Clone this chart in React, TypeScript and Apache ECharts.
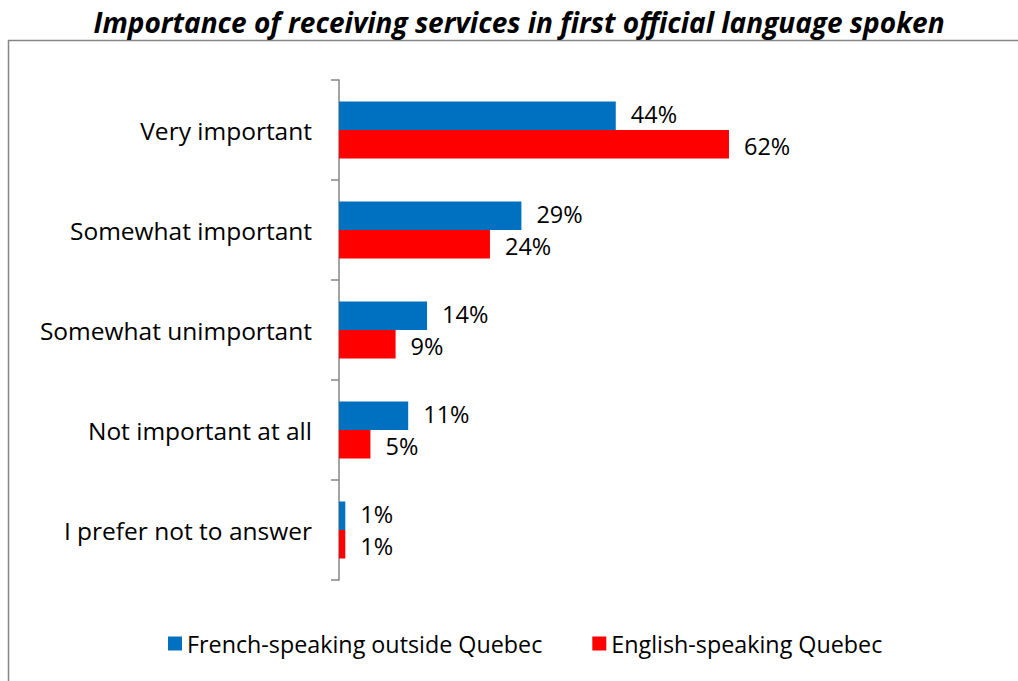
import React, { useEffect, useRef } from "react";
import * as echarts from "echarts";

const categories = [
  "Very important",
  "Somewhat important",
  "Somewhat unimportant",
  "Not important at all",
  "I prefer not to answer",
];
const frenchOutsideQuebec = [44, 29, 14, 11, 1];
const englishQuebec = [62, 24, 9, 5, 1];
const seriesNames = ["French-speaking outside Quebec", "English-speaking Quebec"];
const titleText = "Importance of receiving services in first official language spoken";

const FONT = "'Open Sans', 'Noto Sans', sans-serif";

export default function App() {
  const ref = useRef<HTMLDivElement>(null);
  useEffect(() => {
    if (!ref.current) return;
    const chart = echarts.init(ref.current, null, { renderer: "svg" });
    const makeLabel = (dy: number) => ({
      show: true,
      position: "right" as const,
      distance: 15,
      offset: [0, dy],
      formatter: (p: any) => `${p.value}%`,
      color: "#000",
      fontSize: 23.5,
      lineHeight: 24,
      fontFamily: FONT,
    });
    chart.setOption({
      animation: false,
      backgroundColor: "#fff",
      textStyle: { fontFamily: FONT },
      graphic: [
        {
          type: "rect",
          shape: { x: 8.5, y: 40.5, width: 1100, height: 700 },
          style: { fill: "none", stroke: "#868686", lineWidth: 1.5 },
          silent: true,
        },
        {
          type: "text",
          x: 519,
          y: 22,
          style: {
            text: titleText,
            font: `italic bold 28px ${FONT}`,
            fill: "#000",
            align: "center",
            verticalAlign: "middle",
          },
        },
      ],
      grid: { left: 339, top: 80, width: 629, height: 500, containLabel: false },
      xAxis: {
        type: "value",
        min: 0,
        max: 100,
        show: false,
      },
      yAxis: {
        type: "category",
        data: categories,
        inverse: true,
        axisLine: { show: true, lineStyle: { color: "#868686", width: 1.5 } },
        axisTick: { show: true, inside: false, length: 8, lineStyle: { color: "#868686", width: 1.5 } },
        axisLabel: {
          margin: 27,
          color: "#000",
          fontSize: 24.5,
          fontFamily: FONT,
          padding: [0, 0, 5, 0],
        },
        splitLine: { show: false },
      },
      legend: {
        left: 163,
        top: 627,
        itemWidth: 14,
        itemHeight: 14,
        itemGap: 50,
        icon: "rect",
        textStyle: { fontSize: 23.3, color: "#000", fontFamily: FONT },
        data: seriesNames,
      },
      series: [
        {
          name: seriesNames[0],
          type: "bar",
          data: frenchOutsideQuebec,
          itemStyle: { color: "#0070C0" },
          barGap: "0%",
          barCategoryGap: "43%",
          label: makeLabel(-1.5),
        },
        {
          name: seriesNames[1],
          type: "bar",
          data: englishQuebec,
          itemStyle: { color: "#FF0000" },
          barGap: "0%",
          barCategoryGap: "43%",
          label: makeLabel(2),
        },
      ],
    });
    return () => chart.dispose();
  }, []);
  return (
    <div
      ref={ref}
      style={{ position: "fixed", left: 0, top: 0, width: 1018, height: 681 }}
    />
  );
}
